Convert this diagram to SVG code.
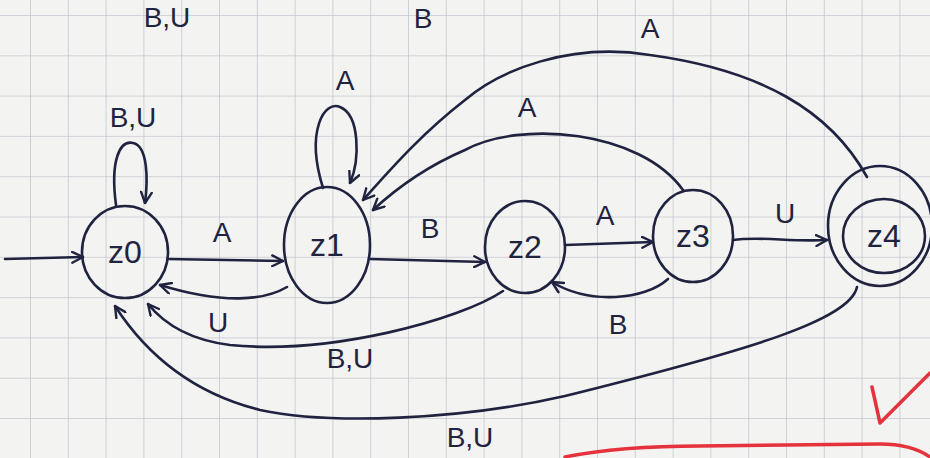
<svg xmlns="http://www.w3.org/2000/svg" width="930" height="458" viewBox="0 0 930 458">
<style>
.ink{fill:none;stroke:#1f2340;stroke-width:2.6;stroke-linecap:round;stroke-linejoin:round}
.node{fill:none;stroke:#1f2340;stroke-width:2.6}
.lbl{font-family:"Liberation Sans",Arial,sans-serif;font-size:28px;fill:#1f2340;text-anchor:middle}
.nlbl{font-family:"Liberation Sans",Arial,sans-serif;font-size:32px;fill:#1f2340;text-anchor:middle}
.red{fill:none;stroke:#e5333d;stroke-width:3.5;stroke-linecap:round;stroke-linejoin:round}
</style>
<defs>
<pattern id="grid" patternUnits="userSpaceOnUse" x="30" y="15" width="37.8" height="40.3">
<path d="M0,0 L0,40.3 M0,0 L37.8,0" stroke="#c3c7cf" stroke-width="1.6" fill="none"/>
</pattern>
<marker id="arr" viewBox="0 0 12 12" refX="11" refY="6" markerWidth="13" markerHeight="13" markerUnits="userSpaceOnUse" orient="auto">
<path d="M1,1 L11,6 L1,11" fill="none" stroke="#1f2340" stroke-width="2.2" stroke-linecap="round" stroke-linejoin="round"/>
</marker>
</defs>
<rect width="930" height="458" fill="#f3f3f1"/>
<rect width="930" height="458" fill="url(#grid)"/>

<g id="connectors">
<path class="ink" marker-end="url(#arr)" d="M5,259 L83,257"/>
<path class="ink" marker-end="url(#arr)" d="M168,259 L283,261"/>
<path class="ink" marker-end="url(#arr)" d="M287,287 C265,300 225,305 160,285"/>
<path class="ink" marker-end="url(#arr)" d="M370,259 L485,262"/>
<path class="ink" marker-end="url(#arr)" d="M503,291 C460,320 330,355 230,345 C190,340 165,325 148,304"/>
<path class="ink" marker-end="url(#arr)" d="M565,245 L653,242"/>
<path class="ink" marker-end="url(#arr)" d="M668,279 C645,300 590,305 552,282"/>
<path class="ink" marker-end="url(#arr)" d="M733,240 C760,236 790,242 827,240"/>
<path class="ink" marker-end="url(#arr)" d="M683,190 C640,130 520,120 465,150 C430,165 400,185 373,210"/>
<path class="ink" marker-end="url(#arr)" d="M867,177 C830,110 760,70 650,55 C570,42 500,70 465,100 C420,135 390,170 363,200"/>
<path class="ink" marker-end="url(#arr)" d="M857,287 C850,320 750,350 565,396 C460,420 330,425 260,410 C200,395 150,360 115,306"/>
<path class="ink" marker-end="url(#arr)" d="M116,205 C110,160 120,140 133,143 C148,146 148,180 145,203"/>
<path class="ink" marker-end="url(#arr)" d="M323,188 C305,130 325,100 340,107 C360,115 360,160 350,183"/>
<text class="lbl" x="222" y="242">A</text>
<text class="lbl" x="218" y="332">U</text>
<text class="lbl" x="430" y="238">B</text>
<text class="lbl" x="350" y="368">B,U</text>
<text class="lbl" x="605" y="225">A</text>
<text class="lbl" x="618" y="334">B</text>
<text class="lbl" x="785" y="223">U</text>
<text class="lbl" x="527" y="117">A</text>
<text class="lbl" x="650" y="38">A</text>
<text class="lbl" x="470" y="447">B,U</text>
<text class="lbl" x="133" y="127">B,U</text>
<text class="lbl" x="345" y="90">A</text>
<text class="lbl" x="167" y="27">B,U</text>
<text class="lbl" x="423" y="28">B</text>
</g>

<g id="z0">
<ellipse class="node" cx="125" cy="252" rx="43" ry="46"/>
<text class="nlbl" x="125" y="263">z0</text>
</g>
<g id="z1">
<ellipse class="node" cx="327" cy="245" rx="43" ry="58"/>
<text class="nlbl" x="327" y="256">z1</text>
</g>
<g id="z2">
<ellipse class="node" cx="525" cy="247" rx="40" ry="46"/>
<text class="nlbl" x="525" y="258">z2</text>
</g>
<g id="z3">
<ellipse class="node" cx="693" cy="236" rx="40" ry="46"/>
<text class="nlbl" x="693" y="247">z3</text>
</g>
<g id="z4">
<ellipse class="node" cx="880" cy="226" rx="52" ry="60"/>
<ellipse class="node" cx="884" cy="236" rx="41" ry="37"/>
<text class="nlbl" x="884" y="247">z4</text>
</g>

<g id="marks">
<path class="red" d="M872,387 L880,423 L930,373"/>
<path class="red" d="M565,457 C600,450 640,446 700,446 L880,444 C905,444 920,450 930,457"/>
</g>
</svg>
